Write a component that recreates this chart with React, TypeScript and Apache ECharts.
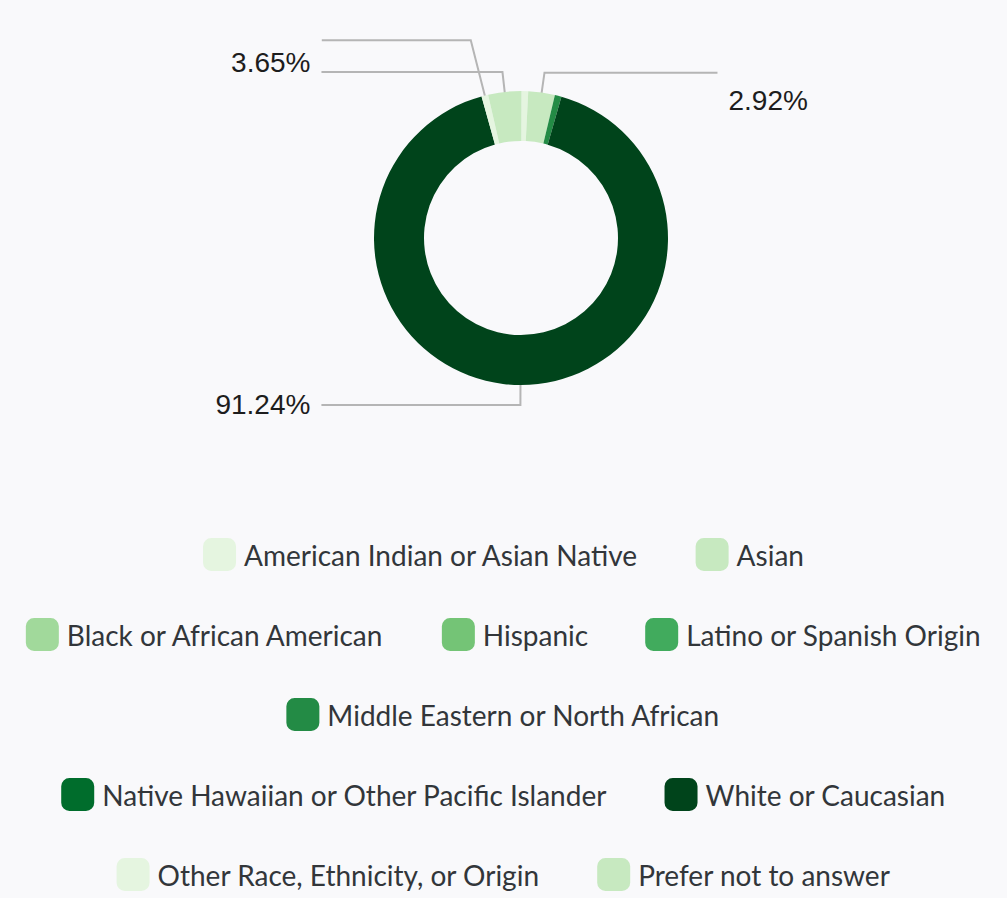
import React, { useEffect, useRef } from "react";
import * as echarts from "echarts";

const categories = [
  "American Indian or Asian Native",
  "Asian",
  "Black or African American",
  "Hispanic",
  "Latino or Spanish Origin",
  "Middle Eastern or North African",
  "Native Hawaiian or Other Pacific Islander",
  "White or Caucasian",
  "Other Race, Ethnicity, or Origin",
  "Prefer not to answer",
];
const values = [0.73, 2.92, 0, 0, 0, 0.73, 0, 91.24, 0.73, 3.65];
const colors = [
  "#e5f5e0", "#c7e9c0", "#a1d99b", "#74c476", "#41ab5d",
  "#238b45", "#006d2c", "#00441b", "#e5f5e0", "#c7e9c0",
];
const legendRows = [
  [0, 1],
  [2, 3, 4],
  [5],
  [6, 7],
  [8, 9],
];

// label presentation per category (style only)
const labelStyle: Record<number, any> = {
  1: { length: 45, length2: 173, tag: "d", text: true },
  7: { length: 45, length2: 199, tag: "n", text: true },
  8: { length: 82, length2: 149, tag: "n", text: false },
  9: { length: 45, length2: 181, tag: "u", text: true },
};

export default function App() {
  const ref = useRef<HTMLDivElement>(null);
  useEffect(() => {
    document.body.style.margin = "0";
    const chart = echarts.init(ref.current!, null, { renderer: "svg" });
    const center = [521, 238];
    const ringData = categories.map((name, i) => ({
      name,
      value: values[i],
      itemStyle: { color: colors[i] },
    }));
    const labelData = categories.map((name, i) => {
      const s = labelStyle[i];
      let label: any = { show: false };
      if (s) {
        label = s.text
          ? {
              show: true,
              formatter: (p: any) =>
                "{" + s.tag + "|" + p.percent.toFixed(2) + "%}",
            }
          : { show: true, formatter: " ", fontSize: 1, lineHeight: 1 };
      }
      return {
        name,
        value: values[i],
        label,
        labelLine: s
          ? { show: true, length: s.length, length2: s.length2 }
          : { show: false },
      };
    });
    const richBase = {
      fontFamily: "Liberation Sans",
      fontSize: 28,
      color: "#1d1d1d",
    };
    chart.setOption({
      animation: false,
      backgroundColor: "#f9f9fb",
      color: colors,
      legend: legendRows.map((row, r) => ({
        data: row.map((i) => categories[i]),
        left: "center",
        top: 533 + r * 80,
        orient: "horizontal",
        icon: "roundRect",
        itemWidth: 33,
        itemHeight: 33,
        itemGap: 57,
        selectedMode: false,
        textStyle: {
          fontFamily: "Lato",
          fontSize: 28,
          color: "#32363a",
          padding: [0, 0, 0, 3],
        },
      })),
      series: [
        {
          type: "pie",
          center,
          radius: [97, 147],
          startAngle: 89.8,
          clockwise: true,
          silent: true,
          label: { show: false },
          labelLine: { show: false },
          data: ringData,
        },
        {
          type: "pie",
          center,
          radius: [0, 122],
          startAngle: 89.8,
          clockwise: true,
          silent: true,
          avoidLabelOverlap: false,
          itemStyle: { color: "rgba(0,0,0,0)" },
          labelLayout: { hideOverlap: false },
          label: {
            show: false,
            position: "outside",
            fontFamily: "Liberation Sans",
            fontSize: 28,
            color: "#1d1d1d",
            distanceToLabelLine: 11,
            rich: {
              n: { ...richBase },
              u: { ...richBase, padding: [0, 0, 20, 0] },
              d: { ...richBase, padding: [56, 0, 0, 0] },
            },
          },
          labelLine: {
            show: false,
            smooth: false,
            lineStyle: { color: "#b5b5b5", width: 2 },
          },
          data: labelData,
        },
      ],
    });
    return () => chart.dispose();
  }, []);
  return <div ref={ref} style={{ width: 1007, height: 898 }} />;
}
